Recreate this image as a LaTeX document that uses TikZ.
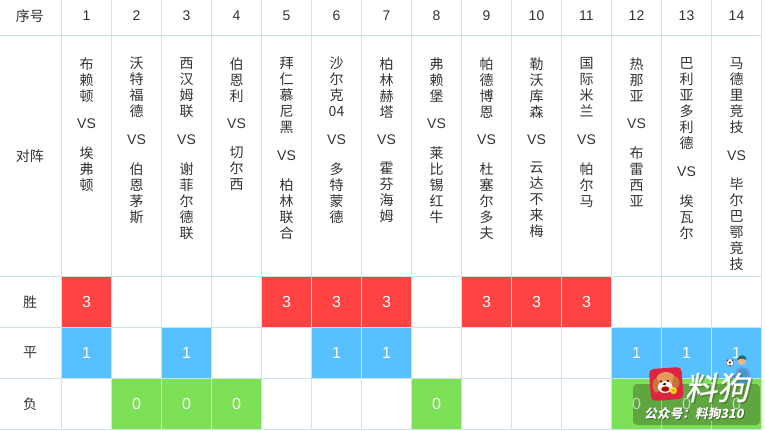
\documentclass[tikz,border=0pt]{standalone}
\usepackage{fontspec}
\setmainfont{Liberation Sans}
\newfontfamily\cjk{Noto Sans CJK SC}
\newfontfamily\cjkfat[FakeBold=0.7]{Noto Sans CJK SC}
\definecolor{gridc}{HTML}{CFE0EE}
\definecolor{redc}{HTML}{FF4343}
\definecolor{bluec}{HTML}{57C1FF}
\definecolor{greenc}{HTML}{7DE157}
\definecolor{textc}{HTML}{333333}
\definecolor{bandc}{HTML}{5FA640}
\definecolor{bandgrid}{HTML}{A3BFA0}
\definecolor{bandzero}{HTML}{C6D2BC}
\definecolor{shadowc}{HTML}{3F6E2C}
\definecolor{logored}{HTML}{DE2440}
\definecolor{dogfur}{HTML}{E39A5A}
\definecolor{dogear}{HTML}{C9753A}
\definecolor{shirt}{HTML}{3F9AD2}
\definecolor{shirtarm}{HTML}{6E97D8}
\definecolor{hair}{HTML}{1F6F6A}
\definecolor{skin}{HTML}{F2B58E}
\tikzset{
  head/.style={font=\fontsize{10.5pt}{12pt}\selectfont\cjk,text=textc,inner sep=0pt},
  num/.style={font=\fontsize{10.5pt}{12pt}\selectfont,text=textc,inner sep=0pt},
  score/.style={font=\fontsize{12pt}{14pt}\selectfont,text=white,inner sep=0pt},
  vs/.style={font=\fontsize{10.5pt}{12pt}\selectfont,text=textc,inner sep=0pt},
  team/.style={font=\fontsize{10.5pt}{12pt}\selectfont\cjk,text=textc,inner sep=0pt,align=center,anchor=north},
  gridline/.style={draw=gridc,line width=0.9pt},
  wmbig/.style={font=\fontsize{24pt}{25pt}\selectfont\cjkfat,inner sep=0pt,xslant=0.2,transform shape},
  wmsmall/.style={font=\fontsize{9.5pt}{11pt}\selectfont\cjk\bfseries,inner sep=0pt,xslant=0.2,transform shape}
}
\newcommand{\match}[5]{% col centre, number, team 1, team 2, y of VS
  \node[num] (n#2) at (#1,16) {#2};
  \node[team] (a#2) at (#1,57) {#3};
  \node[vs] (v#2) at (#1,#5) {VS};
  \node[team,below=16.5pt] (b#2) at (v#2.center) {#4};
}
\newcommand{\cellfill}[3]{% col index, row top, colour
  \fill[#3] ({11.5+50*#1+0.6},{#2+0.6}) rectangle ({11.5+50*#1+49.4},{#2+50.4});
}
\newcommand{\cell}[4]{% col index, row top, colour, text
  \cellfill{#1}{#2}{#3}
  \node[score] (s#1x#2) at ({11.5+50*#1+25},{#2+25}) {#4};
}
\begin{document}
\begin{tikzpicture}[x=0.75pt,y=-0.75pt]
\useasboundingbox (0,0) rectangle (765,430);
\fill[white] (0,0) rectangle (765,430);
% coloured cells
\foreach \c in {1,5,6,7,9,10,11} {\cell{\c}{276.5}{redc}{3}}
\foreach \c in {1,3,6,7,12,13,14} {\cell{\c}{327.5}{bluec}{1}}
\foreach \c in {2,3,4,8} {\cell{\c}{378.5}{greenc}{0}}
\foreach \c in {12,13,14} {\cellfill{\c}{378.5}{greenc}}
% grid
\foreach \c in {1,...,15} {\draw[gridline] ({11.5+50*\c},0) -- ({11.5+50*\c},430);}
\foreach \y in {35.5,276.5,327.5,378.5,429.5} {\draw[gridline] (0,\y) -- (761.5,\y);}
% row heads
\node[head] (h0) at (30,16) {序号};
\node[head] (h1) at (30,156) {对阵};
\node[head] (h2) at (30,302) {胜};
\node[head] (h3) at (30,353) {平};
\node[head] (h4) at (30,404) {负};
% matches
\match{86.5}{1}{布\\赖\\顿}{埃\\弗\\顿}{124}
\match{136.5}{2}{沃\\特\\福\\德}{伯\\恩\\茅\\斯}{140}
\match{186.5}{3}{西\\汉\\姆\\联}{谢\\菲\\尔\\德\\联}{140}
\match{236.5}{4}{伯\\恩\\利}{切\\尔\\西}{124}
\match{286.5}{5}{拜\\仁\\慕\\尼\\黑}{柏\\林\\联\\合}{156}
\match{336.5}{6}{沙\\尔\\克\\04}{多\\特\\蒙\\德}{140}
\match{386.5}{7}{柏\\林\\赫\\塔}{霍\\芬\\海\\姆}{140}
\match{436.5}{8}{弗\\赖\\堡}{莱\\比\\锡\\红\\牛}{124}
\match{486.5}{9}{帕\\德\\博\\恩}{杜\\塞\\尔\\多\\夫}{140}
\match{536.5}{10}{勒\\沃\\库\\森}{云\\达\\不\\来\\梅}{140}
\match{586.5}{11}{国\\际\\米\\兰}{帕\\尔\\马}{140}
\match{636.5}{12}{热\\那\\亚}{布\\雷\\西\\亚}{124}
\match{686.5}{13}{巴\\利\\亚\\多\\利\\德}{埃\\瓦\\尔}{172}
\match{736.5}{14}{马\\德\\里\\竞\\技}{毕\\尔\\巴\\鄂\\竞\\技}{156}
% player (behind the band)
\fill[shirtarm] (734,386) .. controls (733,373) and (737,367) .. (742,367) .. controls (748,367) and (752,373) .. (752,386) -- cycle;
\fill[shirt] (737,386) .. controls (737,375) and (739,368) .. (742,368) .. controls (746,368) and (749,375) .. (749,386) -- cycle;
\fill[skin] (741.7,361) circle[radius=4];
\fill[hair] (737.3,360.5) .. controls (737,356) and (741,355) .. (743,355.3) .. controls (746,355.5) and (747,358) .. (746.3,360) .. controls (744,358.5) and (741,358.5) .. (739.5,359) -- cycle;
% watermark: dark band with the dimmed grid and zeros seen through it
\fill[bandc,rounded corners=3pt] (633,384) rectangle (760,425);
\draw[bandgrid,line width=0.9pt] (661.5,384) -- (661.5,425);
\draw[bandgrid,line width=0.9pt] (711.5,384) -- (711.5,425);
\foreach \c in {12,13,14} {\node[score,text=bandzero] (s\c z) at ({11.5+50*\c+25},403.5) {0};}
% ball
\fill[white,draw=black!60,line width=0.3pt] (730,362.5) circle[radius=3.8];
\fill[black!75] (730,362.5) circle[radius=1.3];
\fill[black!75] (727.5,360.5) circle[radius=0.8];
\fill[black!75] (732.5,360.5) circle[radius=0.8];
\fill[black!75] (730,365.5) circle[radius=0.8];
% logo
\begin{scope}[rotate around={4:(666,384)}]
  \fill[logored,rounded corners=3.5pt] (650,368) rectangle (682.5,400);
  \fill[dogfur] (666,379) ellipse[x radius=9.5,y radius=7];
  \fill[dogear] (656,385) ellipse[x radius=3.5,y radius=7];
  \fill[dogear] (676,383) ellipse[x radius=3.5,y radius=6];
  \fill[white!90!orange] (665,387) ellipse[x radius=7.5,y radius=6];
  \fill[red!70!black] (665,389) ellipse[x radius=4,y radius=2.6];
  \fill[black] (661,381) circle[radius=1.1];
  \fill[black] (668,381) circle[radius=1.1];
  \fill[black] (664.5,384) ellipse[x radius=1.8,y radius=1.1];
  \fill[yellow!85!orange] (673,391) circle[radius=3.5];
  \fill[orange!70!brown] (673,391) circle[radius=1.4];
\end{scope}
% watermark text
\node[wmbig,text=shadowc,opacity=0.5] (wb) at (721,389) {料狗};
\node[wmbig,text=white] (wa) at (719.5,387.5) {料狗};
\node[wmsmall,text=shadowc] (wd) at (696,415) {公众号：料狗310};
\node[wmsmall,text=white] (wc) at (695,414) {公众号：料狗310};
\end{tikzpicture}
\end{document}
